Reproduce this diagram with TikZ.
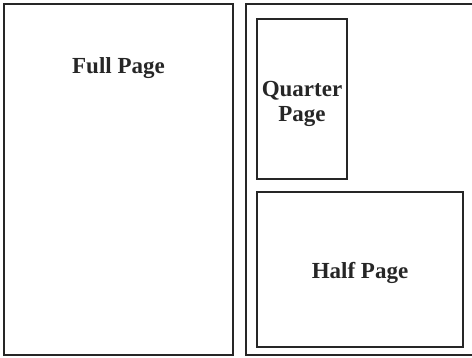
\documentclass[tikz,border=0pt]{standalone}
\usepackage{fontspec}
\setmainfont{Liberation Serif}
\usetikzlibrary{positioning}
\tikzset{
  page/.style={draw=black!85, line width=2pt, inner sep=0pt, outer sep=0pt, anchor=north west},
  caption/.style={font=\fontsize{23}{25}\selectfont\bfseries, text=black!85, align=center, anchor=base, inner sep=0pt}
}
\begin{document}
\begin{tikzpicture}[x=1pt, y=-1pt]
\useasboundingbox (0,0) rectangle (472,357);

% left sheet
\node (full) [page, minimum width=229pt, minimum height=351pt] at (4,4) {};
% right sheet, cut off at the edge
\node (sheet) [page, minimum width=240pt, minimum height=351pt] at (246,4) {};
\node (quarter) [page, minimum width=90pt, minimum height=160pt] at (257,19) {};
\node (half) [page, minimum width=206pt, minimum height=155pt] at (257,192) {};

\node (fulltxt) [caption] at (118.5,73) {Full Page};
\node (quartertxt) [caption] at (302,121) {Quarter\\Page};
\node (halftxt) [caption] at (360,278) {Half Page};

\end{tikzpicture}
\end{document}
